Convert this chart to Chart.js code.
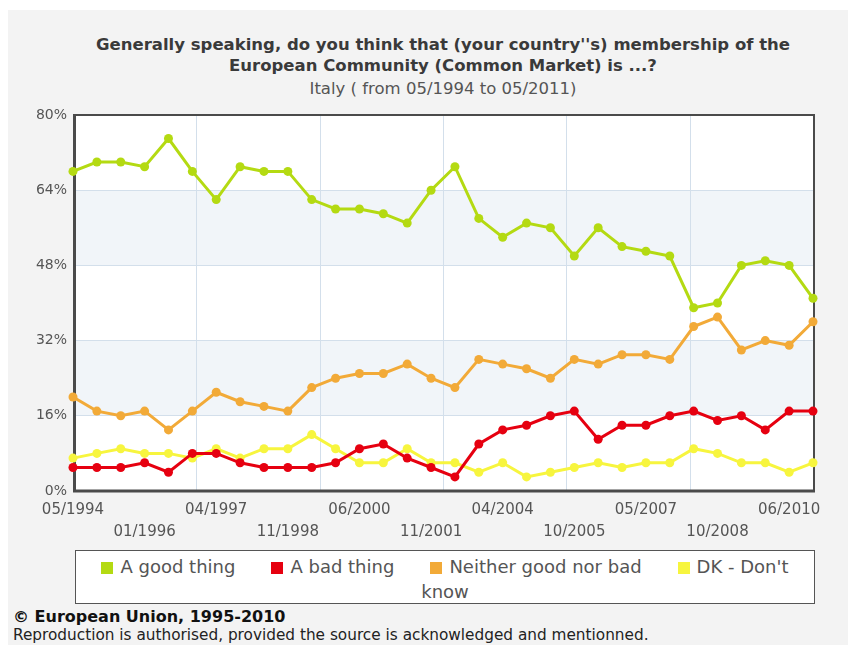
<!DOCTYPE html>
<html>
<head>
<meta charset="utf-8">
<script src="https://cdn.jsdelivr.net/npm/chart.js@4/dist/chart.umd.min.js"></script>
<style>
  body { margin: 0; background: #fff; width: 848px; height: 645px; overflow: hidden; position: relative; }
  .panel { position: absolute; left: 8px; top: 10px; right: 0; bottom: 0; background: #f3f3f3; }
  .title { position: absolute; left: 73px; width: 740px; top: 34px; text-align: center;
           font: bold 16.5px "DejaVu Sans", sans-serif; color: #3a3a3a; line-height: 21px; }
  .subtitle { position: absolute; left: 73px; width: 740px; top: 79px; text-align: center;
              font: 16.5px "DejaVu Sans", sans-serif; color: #555; }
  .chartbox { position: absolute; left: 0; top: 0; width: 848px; height: 548px; }
  .legend { position: absolute; left: 75px; top: 550px; width: 718px; padding: 3px 10px 0 10px; height: 49px;
            background: #fff; border: 1px solid #555; text-align: center;
            font: 18px "DejaVu Sans", sans-serif; color: #555; line-height: 25px; }
  .legend .sw { display: inline-block; width: 12px; height: 12px; margin-right: 7px; vertical-align: -1px; }
  .legend .item + .item { margin-left: 36px; }
  .copy { position: absolute; left: 13px; top: 607px; font: bold 16px "DejaVu Sans", sans-serif; color: #111; }
  .note { position: absolute; left: 13px; top: 626px; font: 15.3px "DejaVu Sans", sans-serif; color: #222; }
</style>
</head>
<body>
<div class="panel"></div>
<div class="title">Generally speaking, do you think that (your country''s) membership of the<br>European Community (Common Market) is ...?</div>
<div class="subtitle">Italy ( from 05/1994 to 05/2011)</div>
<div class="chartbox"><canvas id="trendChart"></canvas></div>
<div class="legend" id="legend"></div>
<div class="copy">© European Union, 1995-2010</div>
<div class="note">Reproduction is authorised, provided the source is acknowledged and mentionned.</div>

<script>
// survey waves
const waves = [
  "05/1994", "11/1994", "04/1995", "01/1996", "04/1996", "10/1996",
  "04/1997", "10/1997", "03/1998", "11/1998", "03/1999", "11/1999",
  "06/2000", "11/2000", "04/2001", "11/2001", "10/2002", "10/2003",
  "04/2004", "10/2004", "05/2005", "10/2005", "04/2006", "09/2006",
  "05/2007", "10/2007", "04/2008", "10/2008", "06/2009", "11/2009",
  "06/2010", "11/2010"
];

// answers, % of respondents
const goodThing = [68, 70, 70, 69, 75, 68, 62, 69, 68, 68, 62, 60, 60, 59, 57, 64,
                   69, 58, 54, 57, 56, 50, 56, 52, 51, 50, 39, 40, 48, 49, 48, 41];
const badThing = [5, 5, 5, 6, 4, 8, 8, 6, 5, 5, 5, 6, 9, 10, 7, 5,
                  3, 10, 13, 14, 16, 17, 11, 14, 14, 16, 17, 15, 16, 13, 17, 17];
const neither = [20, 17, 16, 17, 13, 17, 21, 19, 18, 17, 22, 24, 25, 25, 27, 24,
                 22, 28, 27, 26, 24, 28, 27, 29, 29, 28, 35, 37, 30, 32, 31, 36];
const dontKnow = [7, 8, 9, 8, 8, 7, 9, 7, 9, 9, 12, 9, 6, 6, 9, 6,
                  6, 4, 6, 3, 4, 5, 6, 5, 6, 6, 9, 8, 6, 6, 4, 6];

const yTicks = [0, 16, 32, 48, 64, 80];

const series = [
  { label: "A good thing", data: goodThing, color: "#b4da12" },
  { label: "A bad thing", data: badThing, color: "#e60010" },
  { label: "Neither good nor bad", data: neither, color: "#f2aa38" },
  { label: "DK - Don't know", data: dontKnow, color: "#f7f53e" },
];

// white plot area with light bands every other step and six vertical divisions
const plotBackdrop = {
  id: "plotBackdrop",
  beforeDraw(chart) {
    const { ctx, chartArea: a, scales } = chart;
    const y = scales.y;
    ctx.save();
    ctx.fillStyle = "#fff";
    ctx.fillRect(a.left, a.top, a.right - a.left, a.bottom - a.top);
    ctx.fillStyle = "#f1f5f9";
    for (let i = 1; i < yTicks.length - 1; i += 2) {
      const top = y.getPixelForValue(yTicks[i + 1]);
      const bottom = y.getPixelForValue(yTicks[i]);
      ctx.fillRect(a.left, top, a.right - a.left, bottom - top);
    }
    ctx.strokeStyle = "#d3dfeb";
    ctx.lineWidth = 1;
    for (let i = 1; i < 6; i++) {
      const x = Math.round(a.left + (a.right - a.left) * i / 6) + 0.5;
      ctx.beginPath();
      ctx.moveTo(x, a.top);
      ctx.lineTo(x, a.bottom);
      ctx.stroke();
    }
    ctx.restore();
  },
  // dark frame: thin on top and right, heavier on the axes
  beforeDatasetsDraw(chart) {
    const { ctx, chartArea: a } = chart;
    ctx.save();
    ctx.strokeStyle = "#4a4a4a";
    ctx.lineWidth = 2;
    ctx.beginPath();
    ctx.moveTo(a.left, a.top);
    ctx.lineTo(a.right + 1, a.top);
    ctx.lineTo(a.right + 1, a.bottom);
    ctx.stroke();
    ctx.lineWidth = 3;
    ctx.beginPath();
    ctx.moveTo(a.left + 1.5, a.top - 1);
    ctx.lineTo(a.left + 1.5, a.bottom);
    ctx.lineTo(a.right + 2, a.bottom);
    ctx.stroke();
    ctx.restore();
  },
};

const ctx = document.getElementById("trendChart").getContext("2d");
new Chart(ctx, {
  type: "line",
  data: {
    labels: waves,
    datasets: series.map((s) => ({
      label: s.label,
      data: s.data,
      borderColor: s.color,
      backgroundColor: s.color,
      pointBackgroundColor: s.color,
      pointBorderWidth: 0,
      pointRadius: 4.5,
      borderWidth: 3,
      tension: 0,
      clip: false,
    })),
  },
  options: {
    responsive: true,
    maintainAspectRatio: false,
    animation: false,
    layout: { padding: { top: 115, right: 35, bottom: 2, left: 0 } },
    plugins: {
      legend: { display: false },
      tooltip: { enabled: false },
    },
    scales: {
      x: {
        offset: false,
        grid: { display: false, drawTicks: false },
        border: { display: false },
        afterFit: (s) => { s.height = 55; },
        ticks: {
          autoSkip: false,
          maxRotation: 0,
          padding: 8,
          color: "#555",
          font: { family: "DejaVu Sans", size: 15, lineHeight: 1.45 },
          callback: (v, i) => {
            if (i % 3 !== 0) return "";
            return i % 6 === 0 ? waves[i] : ["", waves[i]];
          },
        },
      },
      y: {
        min: 0,
        max: 80,
        afterFit: (s) => { s.width = 73; },
        grid: { color: "#d3dfeb", drawTicks: false },
        border: { display: false },
        ticks: {
          stepSize: 16,
          padding: 6,
          color: "#555",
          font: { family: "DejaVu Sans", size: 14 },
          callback: (v) => v + "%",
        },
      },
    },
  },
  plugins: [plotBackdrop],
});

// legend
const legend = document.getElementById("legend");
legend.innerHTML = series
  .map((s) => `<span class="item"><span class="sw" style="background:${s.color}"></span>${s.label}</span>`)
  .join("");
</script>
</body>
</html>
